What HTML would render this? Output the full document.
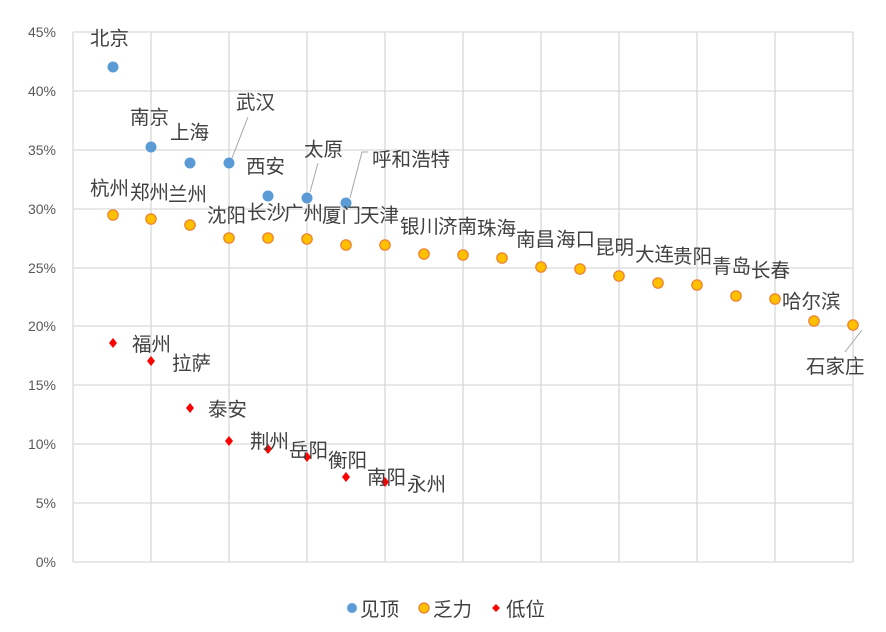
<!DOCTYPE html>
<html><head><meta charset="utf-8"><style>
body{margin:0;background:#fff}
svg{display:block}
.t{font-family:"Liberation Sans","Noto Sans CJK SC",sans-serif;font-size:14px;fill:#595959}
.l{font-family:"Liberation Sans","Noto Sans CJK SC",sans-serif;font-size:19.5px;fill:#404040}
</style></head><body>
<svg width="886" height="632" xmlns="http://www.w3.org/2000/svg">
<g stroke="#d9d9d9" stroke-width="1.3">
<line x1="73" y1="32" x2="853" y2="32"/><line x1="73" y1="91" x2="853" y2="91"/><line x1="73" y1="150" x2="853" y2="150"/><line x1="73" y1="209" x2="853" y2="209"/><line x1="73" y1="268" x2="853" y2="268"/><line x1="73" y1="326" x2="853" y2="326"/><line x1="73" y1="385" x2="853" y2="385"/><line x1="73" y1="444" x2="853" y2="444"/><line x1="73" y1="503" x2="853" y2="503"/><line x1="73" y1="562" x2="853" y2="562"/>
<line x1="73" y1="32" x2="73" y2="562"/><line x1="151" y1="32" x2="151" y2="562"/><line x1="229" y1="32" x2="229" y2="562"/><line x1="307" y1="32" x2="307" y2="562"/><line x1="385" y1="32" x2="385" y2="562"/><line x1="463" y1="32" x2="463" y2="562"/><line x1="541" y1="32" x2="541" y2="562"/><line x1="619" y1="32" x2="619" y2="562"/><line x1="697" y1="32" x2="697" y2="562"/><line x1="775" y1="32" x2="775" y2="562"/><line x1="853" y1="32" x2="853" y2="562"/>
</g>
<g class="t" text-anchor="end">
<text x="56" y="37">45%</text><text x="56" y="96">40%</text><text x="56" y="155">35%</text><text x="56" y="214">30%</text><text x="56" y="273">25%</text><text x="56" y="331">20%</text><text x="56" y="390">15%</text><text x="56" y="449">10%</text><text x="56" y="508">5%</text><text x="56" y="567">0%</text>
</g>
<g stroke="#a6a6a6" stroke-width="1" fill="none">
<polyline points="248,117 232,158"/><polyline points="318,163 310,192"/><polyline points="368,152 362,152 350,198"/><polyline points="862,330 845,352"/>
</g>
<g fill="#5b9bd5">
<circle cx="113" cy="67" r="5.5"/><circle cx="151" cy="147" r="5.5"/><circle cx="190" cy="163" r="5.5"/><circle cx="229" cy="163" r="5.5"/><circle cx="268" cy="196" r="5.5"/><circle cx="307" cy="198" r="5.5"/><circle cx="346" cy="203" r="5.5"/>
</g>
<g fill="#ffc000" stroke="#ed7d31" stroke-width="1.2">
<circle cx="113" cy="215" r="5.2"/><circle cx="151" cy="219" r="5.2"/><circle cx="190" cy="225" r="5.2"/><circle cx="229" cy="238" r="5.2"/><circle cx="268" cy="238" r="5.2"/><circle cx="307" cy="239" r="5.2"/><circle cx="346" cy="245" r="5.2"/><circle cx="385" cy="245" r="5.2"/><circle cx="424" cy="254" r="5.2"/><circle cx="463" cy="255" r="5.2"/><circle cx="502" cy="258" r="5.2"/><circle cx="541" cy="267" r="5.2"/><circle cx="580" cy="269" r="5.2"/><circle cx="619" cy="276" r="5.2"/><circle cx="658" cy="283" r="5.2"/><circle cx="697" cy="285" r="5.2"/><circle cx="736" cy="296" r="5.2"/><circle cx="775" cy="299" r="5.2"/><circle cx="814" cy="321" r="5.2"/><circle cx="853" cy="325" r="5.2"/>
</g>
<g fill="#ff0000">
<path d="M113 338l4 5-4 5-4-5z"/><path d="M151 356l4 5-4 5-4-5z"/><path d="M190 403l4 5-4 5-4-5z"/><path d="M229 436l4 5-4 5-4-5z"/><path d="M268 444l4 5-4 5-4-5z"/><path d="M307 452l4 5-4 5-4-5z"/><path d="M346 472l4 5-4 5-4-5z"/><path d="M385 477l4 5-4 5-4-5z"/>
</g>
<g class="l">
<text x="90" y="45">北京</text><text x="130" y="124">南京</text><text x="170" y="139">上海</text><text x="236" y="109">武汉</text><text x="246" y="173">西安</text><text x="304" y="156">太原</text><text x="372" y="166">呼和浩特</text>
<text x="90" y="195">杭州</text><text x="130" y="199">郑州</text><text x="168" y="201">兰州</text><text x="207" y="222">沈阳</text><text x="247" y="219">长沙</text><text x="284" y="220">广州</text><text x="322" y="222">厦门</text><text x="360" y="222">天津</text><text x="400" y="233">银川</text><text x="438" y="233">济南</text><text x="477" y="235">珠海</text><text x="516" y="246">南昌</text><text x="556" y="246">海口</text><text x="595" y="254">昆明</text><text x="635" y="261">大连</text><text x="673" y="263">贵阳</text><text x="712" y="273">青岛</text><text x="751" y="277">长春</text><text x="782" y="308">哈尔滨</text><text x="806" y="373">石家庄</text>
<text x="132" y="351">福州</text><text x="172" y="370">拉萨</text><text x="208" y="416">泰安</text><text x="250" y="448">荆州</text><text x="289" y="457">岳阳</text><text x="328" y="467">衡阳</text><text x="367" y="484">南阳</text><text x="407" y="491">永州</text>
</g>
<circle cx="352" cy="608" r="5" fill="#5b9bd5"/>
<text class="l" x="360" y="616">见顶</text>
<circle cx="424" cy="608" r="5" fill="#ffc000" stroke="#ed7d31" stroke-width="1.2"/>
<text class="l" x="433" y="616">乏力</text>
<path d="M496 604l4 4-4 4-4-4z" fill="#ff0000"/>
<text class="l" x="506" y="616">低位</text>
</svg>
</body></html>
